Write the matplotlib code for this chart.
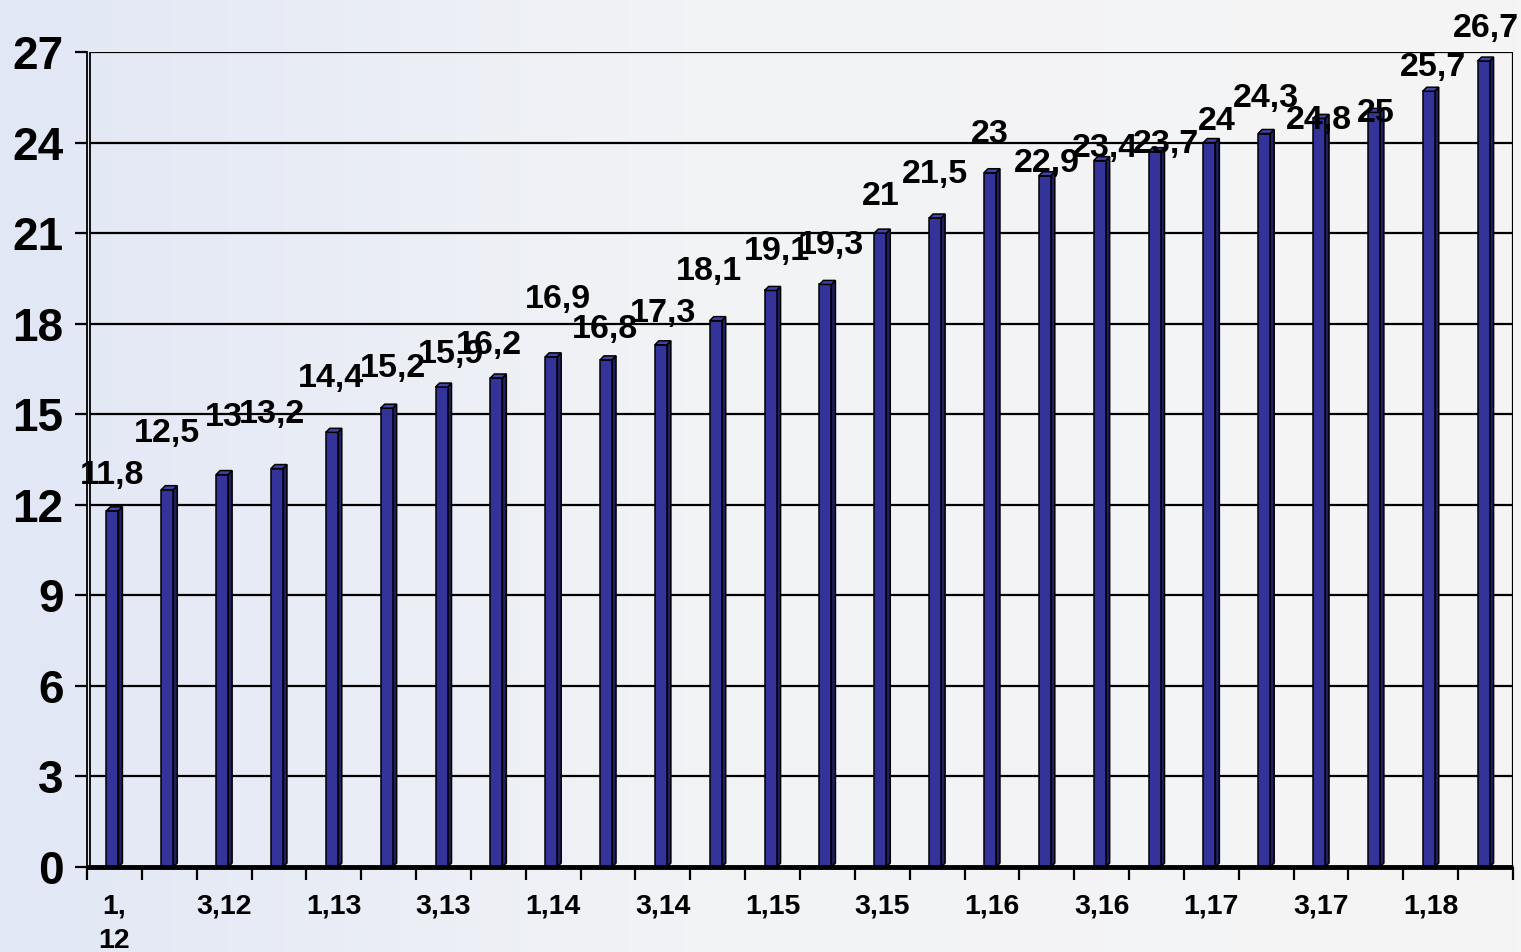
import numpy as np
import matplotlib
matplotlib.use("Agg")
import matplotlib.pyplot as plt
from matplotlib.patches import Polygon

# ---- data ----
categories = [f"{q},{y}" for y in range(12, 19) for q in range(1, 5)][:26]
values = [11.8, 12.5, 13, 13.2, 14.4, 15.2, 15.9, 16.2, 16.9, 16.8, 17.3, 18.1, 19.1,
          19.3, 21, 21.5, 23, 22.9, 23.4, 23.7, 24, 24.3, 24.8, 25, 25.7, 26.7]
shown_labels = ["1,\n12", "3,12", "1,13", "3,13", "1,14", "3,14", "1,15", "3,15",
                "1,16", "3,16", "1,17", "3,17", "1,18"]
y_ticks = [0, 3, 6, 9, 12, 15, 18, 21, 24, 27]

# label offsets in pixels (dx, dy above bar top)
label_dx = [-2, -2, 0, -7, -3, 4, 8, -9, 5, -3, 0, -9, 4, 4, -1, -2, -2, 0, 3, 9, 5, 0, -2, 0, 2, 0]
label_dy = [39, 60, 61, 58, 57, 43, 36, 36, 61, 34, 35, 53, 42, 42, 40, 47, 42, 16, 16, 11, 25, 38, 1, 2, 27, 36]

W, H = 1521, 952
fig = plt.figure(figsize=(W / 100, H / 100), dpi=100)

# background gradient
bg = fig.add_axes([0, 0, 1, 1], zorder=-10)
xs = np.linspace(0, 1, 400)
c0 = np.array([225, 231, 245]) / 255
c1 = np.array([242, 243, 246]) / 255
c2 = np.array([245, 245, 245]) / 255
grad = np.zeros((1, 400, 3))
for i, x in enumerate(xs):
    if x < 0.45:
        t = x / 0.45
        grad[0, i] = c0 * (1 - t) + c1 * t
    else:
        t = (x - 0.45) / 0.55
        grad[0, i] = c1 * (1 - t) + c2 * t
bg.imshow(grad, aspect="auto", extent=[0, 1, 0, 1])
bg.axis("off")

left_px, right_px, top_px, bot_px = 87, 1513, 52, 867
ax = fig.add_axes([left_px / W, 1 - bot_px / H, (right_px - left_px) / W, (bot_px - top_px) / H])
ax.set_facecolor("none")

n = len(values)
ax.set_xlim(-0.5, n - 0.5)
ax.set_ylim(0, 27)

px_x = (n) / (right_px - left_px)      # data units per pixel, x
px_y = 27 / (bot_px - top_px)           # data units per pixel, y

font = "Liberation Sans"

# gridlines
wall_x = -0.5 + 3 * px_x
for yt in y_ticks[1:]:
    ax.plot([wall_x, n - 0.5], [yt, yt], color="black", lw=1.6, zorder=1, solid_capstyle="butt")
ax.plot([wall_x, wall_x], [0, 27], color="black", lw=1.3, zorder=1)
ax.plot([n - 0.5, n - 0.5], [0, 27], color="black", lw=1.6, zorder=1)

# 3D bars
front_w = 12 * px_x
depth_x = 4 * px_x
depth_y = 4 * px_y
xpos = np.arange(n)
front_left = xpos - (front_w + depth_x) / 2
ax.bar(front_left, values, width=front_w, align="edge", color="#333399",
       edgecolor="black", linewidth=1.1, zorder=3)
for xl, v in zip(front_left, values):
    xr = xl + front_w
    side = Polygon([(xr, 0), (xr + depth_x, depth_y), (xr + depth_x, v + depth_y), (xr, v)],
                   closed=True, facecolor="#202060", edgecolor="black", lw=1.1, zorder=2.9)
    top = Polygon([(xl, v), (xr, v), (xr + depth_x, v + depth_y), (xl + depth_x, v + depth_y)],
                  closed=True, facecolor="#4343a8", edgecolor="black", lw=1.1, zorder=3.1)
    ax.add_patch(side)
    ax.add_patch(top)

# floor
ax.plot([-0.5, n - 0.5], [0, 0], color="black", lw=3.5, zorder=4, solid_capstyle="butt", clip_on=False)

# data labels
for x, v, dx, dy in zip(xpos, values, label_dx, label_dy):
    txt = f"{v:g}".replace(".", ",")
    ax.annotate(txt, xy=(x, v), xytext=(dx, dy - 12), textcoords="offset pixels",
                ha="center", va="baseline", fontsize=24.5, fontweight="bold",
                family=font, color="black", zorder=6, annotation_clip=False)

# spines
for s in ["top", "right", "bottom"]:
    ax.spines[s].set_visible(False)
ax.spines["left"].set_linewidth(1.3)

# y axis
ax.set_yticks(y_ticks)
ax.set_yticklabels([str(t) for t in y_ticks], fontsize=33, fontweight="bold", family=font)
ax.tick_params(axis="y", length=9, width=1.6, pad=8, direction="out")

# x axis
ax.set_xticks(np.arange(-0.5, n, 1.0), minor=True)
ax.set_xticks(xpos[::2])
ax.set_xticklabels(shown_labels, fontsize=20.5, fontweight="bold", family=font, linespacing=1.45)
ax.tick_params(axis="x", which="major", length=0, pad=19)
ax.tick_params(axis="x", which="minor", length=9, width=1.6, direction="out")

fig.savefig("out.png", dpi=100)
